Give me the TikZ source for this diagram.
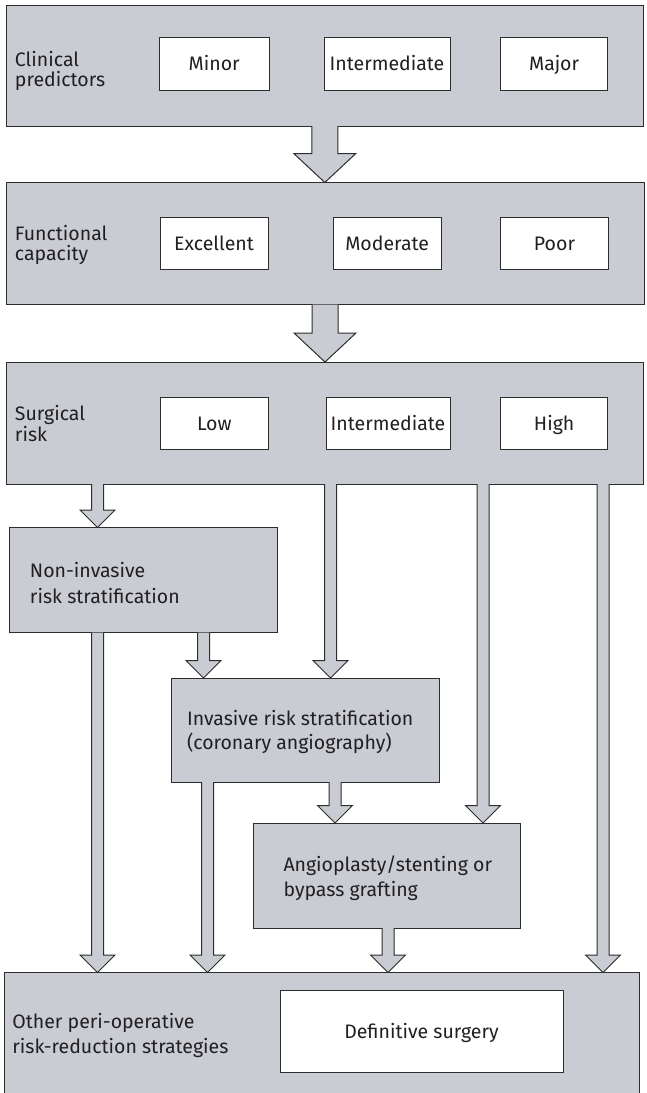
\documentclass[tikz,border=0pt]{standalone}
\usepackage{fontspec}
\setmainfont{Fira Sans}
\usetikzlibrary{calc}
\definecolor{bandgray}{RGB}{201,204,211}
\definecolor{edge}{RGB}{45,45,45}
\definecolor{ink}{RGB}{35,31,32}
\tikzset{
  band/.style={draw=edge, line width=1pt, fill=bandgray, inner sep=0pt, outer sep=0pt, anchor=north west},
  wbox/.style={draw=edge, line width=1pt, fill=white, inner sep=0pt, outer sep=0pt,
     minimum height=52.5pt, text height=13.4pt, text depth=0pt, text=ink,
     font=\fontsize{19.5}{20}\selectfont},
  lbl/.style={inner sep=0pt, outer sep=0pt, anchor=base west, text=ink, font=\fontsize{19.5}{20}\selectfont},
  arrfill/.style={draw=edge, line width=1pt, fill=bandgray, line join=miter}
}
% block arrow: #1 start, #2 tip, #3 shaft half width, #4 head half width, #5 head length
\newcommand\blockarr[5]{%
  \filldraw[arrfill] let \p1=(#1), \p2=(#2) in
    (\x1-#3pt,\y1) -- (\x1-#3pt,\y2+#5pt) -- (\x1-#4pt,\y2+#5pt) -- (\x1,\y2)
    -- (\x1+#4pt,\y2+#5pt) -- (\x1+#3pt,\y2+#5pt) -- (\x1+#3pt,\y1);}
\begin{document}
\begin{tikzpicture}[x=1pt,y=-1pt]
\useasboundingbox (0,0) rectangle (646,1093);
% ---- bands
\node[band, minimum width=637.6pt, minimum height=121pt] (b1) at (6,5) {};
\node[band, minimum width=638pt, minimum height=122pt] (b2) at (6,182.5) {};
\node[band, minimum width=637.6pt, minimum height=122pt] (b3) at (6,362) {};
\node[band, minimum width=267.5pt, minimum height=105pt] (ni) at (9.5,527.5) {};
\node[band, minimum width=268pt, minimum height=104pt] (inv) at (171,678) {};
\node[band, minimum width=267pt, minimum height=105pt] (ang) at (253.5,823) {};
\node[band, minimum width=635.5pt, minimum height=140pt] (bb) at (4,972.5) {};
% ---- band 1
\node[lbl] (l1a) at (15,66.7) {Clinical};
\node[lbl] (l1b) at (15,86.7) {predictors};
\node[wbox, minimum width=109.5pt] (minor) at (214.25,63.9) {Minor};
\node[wbox, minimum width=126pt] (inter1) at (387,63.9) {Intermediate};
\node[wbox, minimum width=107.1pt] (major) at (554.15,63.9) {Major};
% ---- band 2
\node[lbl] (l2a) at (15,240) {Functional};
\node[lbl] (l2b) at (15,260) {capacity};
\node[wbox, minimum width=108pt] (exc) at (214,243.5) {Excellent};
\node[wbox, minimum width=108.3pt] (mod) at (387.15,243.5) {Moderate};
\node[wbox, minimum width=108.4pt] (poor) at (554.5,243.5) {Poor};
% ---- band 3
\node[lbl] (l3a) at (15,420) {Surgical};
\node[lbl] (l3b) at (15,441) {risk};
\node[wbox, minimum width=108.6pt] (low) at (214.3,423.7) {Low};
\node[wbox, minimum width=124pt] (inter3) at (388,423.7) {Intermediate};
\node[wbox, minimum width=107.1pt] (high) at (554.15,423.7) {High};
% ---- boxes
\node[lbl] (nia) at (30,577) {Non-invasive};
\node[lbl] (nib) at (30,603) {risk stratification};
\node[lbl] (inva) at (187,725) {Invasive risk stratification};
\node[lbl] (invb) at (187,749.5) {(coronary angiography)};
\node[lbl] (anga) at (283.5,871.7) {Angioplasty/stenting or};
\node[lbl] (angb) at (283.5,896) {bypass grafting};
\node[lbl] (bba) at (12.4,1028.3) {Other peri-operative};
\node[lbl] (bbb) at (12.4,1053.3) {risk-reduction strategies};
\node[wbox, minimum width=283pt, minimum height=82pt] (ds) at (421.5,1031.7) {Definitive surgery};
% ---- arrow x positions
\coordinate (xa) at (97.5,0);
\coordinate (xb) at (203.5,0);
\coordinate (xc) at (330.5,0);
\coordinate (xd) at (483,0);
\coordinate (xe) at (603,0);
\coordinate (xf) at (335,0);
\coordinate (xg) at (207.5,0);
\coordinate (xh) at (388,0);
% ---- big arrows
\blockarr{b1.south}{b2.north}{13}{31}{29}
\blockarr{b2.south}{b3.north}{13}{31}{29}
% ---- small arrows
\blockarr{b3.south -| xa}{ni.north -| xa}{6}{17.5}{17.5}
\blockarr{ni.south -| xa}{bb.north -| xa}{6}{17.5}{17.5}
\blockarr{ni.south -| xb}{inv.north -| xb}{6}{17.5}{17.5}
\blockarr{b3.south -| xc}{inv.north -| xc}{6}{17.5}{17.5}
\blockarr{b3.south -| xd}{ang.north -| xd}{6}{17.5}{17.5}
\blockarr{b3.south -| xe}{bb.north -| xe}{6}{17.5}{17.5}
\blockarr{inv.south -| xf}{ang.north -| xf}{6}{17.5}{17.5}
\blockarr{inv.south -| xg}{bb.north -| xg}{6}{17.5}{17.5}
\blockarr{ang.south -| xh}{bb.north -| xh}{6}{17.5}{17.5}
\end{tikzpicture}
\end{document}
